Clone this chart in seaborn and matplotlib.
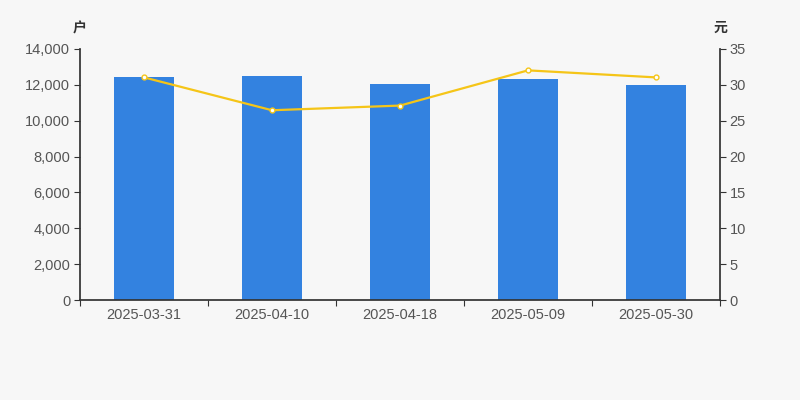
import numpy as np
import pandas as pd
import seaborn as sns
import matplotlib.pyplot as plt
from matplotlib.ticker import FuncFormatter, FixedLocator

# chart data
dates = ["2025-03-31", "2025-04-10", "2025-04-18", "2025-05-09", "2025-05-30"]
holders = [12430, 12480, 12050, 12320, 11980]
prices = [31.04, 26.46, 27.11, 32.02, 31.04]

bg = "#f7f7f7"
bar_color = "#3382e0"
line_color = "#f5c518"
text_color = "#555555"

sns.set_theme(style="white")
plt.rcParams['font.family'] = ['Liberation Sans', 'Noto Sans CJK SC', 'DejaVu Sans']

df = pd.DataFrame({"date": dates, "holders": holders})

fig = plt.figure(figsize=(8, 4), dpi=100, facecolor=bg)
ax = fig.add_axes([0.1, 0.25, 0.8, 0.6275])
ax.set_facecolor(bg)

sns.barplot(data=df, x="date", y="holders", color=bar_color, saturation=1,
            width=0.47, linewidth=0, ax=ax)
ax.set_xlim(-0.5, len(dates) - 0.5)
ax.set_ylim(0, 14000)
ax.set_yticks(np.arange(0, 14001, 2000))
ax.yaxis.set_major_formatter(FuncFormatter(lambda v, p: f"{int(v):,}"))
ax.set_xlabel("")
ax.set_ylabel("")

ax2 = ax.twinx()
ax2.plot(np.arange(len(dates)), prices, color=line_color, lw=1.6,
         marker="o", ms=3.5, mfc="white", mec=line_color, mew=1, zorder=3)
ax2.set_ylim(0, 35)
ax2.set_yticks(np.arange(0, 36, 5))

for a in (ax, ax2):
    for s in a.spines.values():
        s.set_visible(False)
    a.tick_params(axis="y", colors="#333333", labelcolor=text_color,
                  labelsize=10.5, length=4, width=0.8, direction="out", pad=3)

ax.spines["left"].set_visible(True)
ax.spines["left"].set_color("#333333")
ax.spines["bottom"].set_visible(True)
ax.spines["bottom"].set_color("#333333")
ax2.spines["right"].set_visible(True)
ax2.spines["right"].set_color("#333333")
ax.tick_params(axis="y", left=True)
ax2.tick_params(axis="y", right=True)

# x ticks: labels at centers, tick marks at category edges
ax.xaxis.set_minor_locator(FixedLocator(np.arange(-0.5, len(dates), 1.0)))
ax.tick_params(axis="x", which="major", length=0, labelsize=10.5,
               labelcolor=text_color, pad=6)
ax.tick_params(axis="x", which="minor", bottom=True, length=4, width=0.8,
               color="#333333", direction="out")

fig.text(0.1, 0.93, "户", ha="center", va="center", fontsize=10,
         fontweight="bold", color="#333333")
fig.text(0.9, 0.93, "元", ha="center", va="center", fontsize=10,
         fontweight="bold", color="#333333")

plt.savefig("out.png", dpi=100, facecolor=bg)
